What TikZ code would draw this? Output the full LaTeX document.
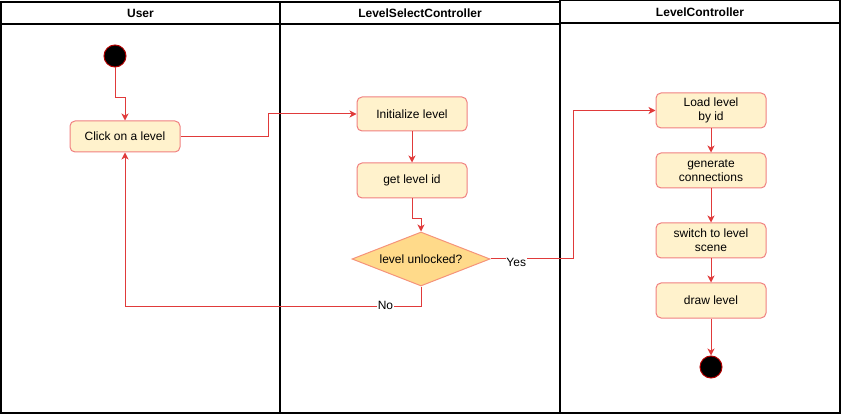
\documentclass[tikz,border=0pt]{standalone}
\usepackage{fontspec}
\setmainfont{Liberation Sans}
\usetikzlibrary{arrows.meta,shapes.geometric}
\definecolor{edgered}{HTML}{E03A3A}
\definecolor{boxfill}{HTML}{FFF2CC}
\definecolor{boxline}{HTML}{F08080}
\definecolor{decfill}{HTML}{FFDA8A}
\definecolor{decline}{HTML}{F5937A}
\begin{document}
\begin{tikzpicture}[x=1pt,y=-1pt,
	lane/.style={draw=black,line width=1.2pt},
	lanetitle/.style={font=\bfseries\fontsize{12}{14}\selectfont},
	action/.style={draw=boxline,fill=boxfill,line width=1pt,rounded corners=5pt,minimum width=110pt,minimum height=35pt,inner sep=0pt,align=center,font=\fontsize{12}{14}\selectfont},
	decision/.style={diamond,draw=decline,fill=decfill,line width=1pt,minimum width=138pt,minimum height=54pt,inner sep=0pt,aspect=2.55,font=\fontsize{12}{14}\selectfont},
	terminal/.style={circle,fill=black,draw=red!70!black,line width=1pt,minimum size=22pt,inner sep=0pt},
	flow/.style={draw=edgered,line width=1pt,-{Stealth[length=7pt,width=7pt,inset=2pt]}},
	lbl/.style={fill=white,inner sep=0.5pt,font=\fontsize{12}{14}\selectfont}]
	\useasboundingbox (0,0) rectangle (841,414);

	\draw[lane] (1,2) rectangle (280,413);
	\draw[lane] (1,24) -- (280,24);
	\draw[lane] (280,2) rectangle (560,413);
	\draw[lane] (280,24) -- (560,24);
	\draw[lane] (560,0.5) rectangle (840,413);
	\draw[lane] (560,23) -- (840,23);
	\node[lanetitle] (tuser) at (140.5,13) {User};
	\node[lanetitle] (tselect) at (420,13) {LevelSelectController};
	\node[lanetitle] (tlevel) at (700,12) {LevelController};

	\node[terminal] (start) at (115,56) {};
	\node[action,minimum height=31pt] (click) at (125,136.5) {Click on a level};

	\node[action,minimum height=34pt] (init) at (412,114) {Initialize level};
	\node[action] (getid) at (412,180.5) {get level id};
	\node[decision] (check) at (421,259) {level unlocked?};

	\node[action] (load) at (711,110.5) {Load level\\by id};
	\node[action] (gen) at (711,170.5) {generate\\connections};
	\node[action] (switch) at (711,240.5) {switch to level\\scene};
	\node[action] (drawlvl) at (711,300.5) {draw level};
	\node[terminal] (end) at (711,367) {};

	\draw[flow] (start.south) -- ++(0,30) -| (click.north);
	\draw[flow] (click.east) -- ++(88,0) |- (init.west);
	\draw[flow] (init) -- (getid);
	\draw[flow] (getid.south) -- ++(0,20) -| (check.north);
	\draw[flow] (check.east) -- node[lbl,pos=0.31,yshift=-3pt]{Yes} ++(83,0) |- (load.west);
	\draw[flow] (check.south) -- ++(0,20) -- node[lbl,pos=0.12,yshift=1pt]{No} ++(-296,0) -- (click.south);
	\draw[flow] (load) -- (gen);
	\draw[flow] (gen) -- (switch);
	\draw[flow] (switch) -- (drawlvl);
	\draw[flow] (drawlvl) -- (end);
\end{tikzpicture}
\end{document}
